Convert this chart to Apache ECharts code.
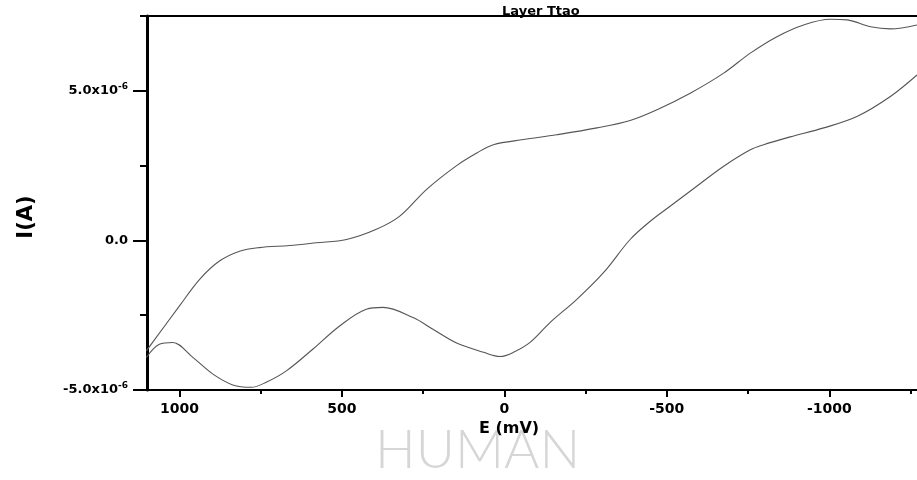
<!DOCTYPE html>
<html>
<head>
<meta charset="utf-8">
<script src="https://cdn.jsdelivr.net/npm/echarts@6/dist/echarts.min.js"></script>
<style>html,body{margin:0;padding:0;background:#fff;}#c{width:917px;height:480px;}</style>
</head>
<body>
<div id="c"></div>
<script>
// Potential sweep toward negative values (upper branch), mV
const forwardE = [1102, 1000, 938, 877, 815, 754, 661, 579, 486, 394, 322, 240, 147, 85, 34, -59, -161, -285, -387, -470, -572, -675, -757, -839, -921, -1003, -1055, -1127, -1188, -1270];
// Current for the upper branch, A
const forwardI = [-3.69e-6, -2.19e-6, -1.30e-6, -0.69e-6, -0.36e-6, -0.24e-6, -0.17e-6, -0.08e-6, 0.03e-6, 0.37e-6, 0.81e-6, 1.70e-6, 2.50e-6, 2.92e-6, 3.20e-6, 3.37e-6, 3.53e-6, 3.76e-6, 4.01e-6, 4.37e-6, 4.92e-6, 5.59e-6, 6.26e-6, 6.81e-6, 7.20e-6, 7.39e-6, 7.37e-6, 7.14e-6, 7.07e-6, 7.20e-6];
// Return sweep (lower branch), mV
const reverseE = [-1270, -1188, -1085, -983, -880, -798, -757, -675, -592, -510, -449, -387, -305, -223, -141, -79, -28, 13, 64, 147, 220, 281, 374, 425, 507, 589, 671, 733, 779, 836, 897, 959, 1021, 1062, 1102];
// Current for the lower branch, A
const reverseI = [5.53e-6, 4.81e-6, 4.14e-6, 3.76e-6, 3.46e-6, 3.20e-6, 3.03e-6, 2.48e-6, 1.81e-6, 1.14e-6, 0.64e-6, 0.03e-6, -1.08e-6, -1.97e-6, -2.74e-6, -3.41e-6, -3.74e-6, -3.88e-6, -3.74e-6, -3.43e-6, -2.97e-6, -2.58e-6, -2.24e-6, -2.30e-6, -2.86e-6, -3.63e-6, -4.36e-6, -4.74e-6, -4.91e-6, -4.83e-6, -4.47e-6, -3.91e-6, -3.41e-6, -3.47e-6, -3.91e-6];

const xMajorTicks = [1000, 500, 0, -500, -1000];
const xMinorTicks = [750, 250, -250, -750, -1250];
const yMajorTicks = [-5e-6, 0, 5e-6];
const yMinorTicks = [-2.5e-6, 2.5e-6, 7.5e-6];

const titleText = 'Layer Ttao';
const xName = 'E (mV)';
const yName = 'I(A)';
const watermark = 'HUMAN';

const X_MIN = -1270, X_MAX = 1100;
const Y_MIN = -5e-6, Y_MAX = 7.5e-6;

const FONT = 'DejaVu Sans';

const chart = echarts.init(document.getElementById('c'), null, {renderer: 'canvas'});

function yFmt(v) {
  const n = Math.round(v * 1e7) / 10;
  if (n === 0) return '{b|0.0}';
  return '{b|' + n.toFixed(1) + 'x10}{s|-6}';
}

const baseX = {
  type: 'value', min: X_MIN, max: X_MAX, inverse: true, gridIndex: 0,
  splitLine: {show: false}
};
const baseY = {
  type: 'value', min: Y_MIN, max: Y_MAX, gridIndex: 0,
  splitLine: {show: false}
};

chart.setOption({
  animation: false,
  backgroundColor: '#fff',
  title: {
    text: titleText, left: 497, top: 0,
    textStyle: {fontFamily: FONT, fontWeight: 'bold', fontSize: 13, color: '#000'}
  },
  grid: {left: 147, right: 0, top: 16, bottom: 90, containLabel: false},
  xAxis: [
    Object.assign({}, baseX, {
      position: 'bottom',
      axisLine: {show: true, onZero: false, lineStyle: {color: '#000', width: 2}},
      axisTick: {show: true, customValues: xMajorTicks, length: 7, lineStyle: {color: '#000', width: 2}},
      axisLabel: {show: true, customValues: xMajorTicks, margin: 12, formatter: v => String(v),
        fontFamily: FONT, fontWeight: 'bold', fontSize: 14, color: '#000'},
      name: xName, nameLocation: 'middle', nameGap: 25,
      nameTextStyle: {fontFamily: FONT, fontWeight: 'bold', fontSize: 16, color: '#000', padding: [0, 46, 0, 0]}
    }),
    Object.assign({}, baseX, {
      position: 'bottom',
      axisLine: {show: false, onZero: false},
      axisTick: {show: true, customValues: xMinorTicks, length: 4, lineStyle: {color: '#000', width: 2}},
      axisLabel: {show: false}
    }),
    Object.assign({}, baseX, {
      position: 'top',
      axisLine: {show: true, onZero: false, lineStyle: {color: '#000', width: 2}},
      axisTick: {show: false},
      axisLabel: {show: false}
    })
  ],
  yAxis: [
    Object.assign({}, baseY, {
      position: 'left',
      axisLine: {show: true, onZero: false, lineStyle: {color: '#000', width: 3}},
      axisTick: {show: true, customValues: yMajorTicks, length: 14, lineStyle: {color: '#000', width: 2}},
      axisLabel: {show: true, customValues: yMajorTicks, margin: 19, formatter: yFmt,
        fontFamily: FONT, fontWeight: 'bold', fontSize: 13, color: '#000',
        rich: {
          b: {fontFamily: FONT, fontWeight: 'bold', fontSize: 13, lineHeight: 18, color: '#000'},
          s: {fontFamily: FONT, fontWeight: 'bold', fontSize: 9, lineHeight: 10, verticalAlign: 'top', color: '#000'}
        }},
      name: yName, nameLocation: 'middle', nameGap: 110, nameRotate: 90,
      nameTextStyle: {fontFamily: FONT, fontWeight: 'bold', fontSize: 21, color: '#000', padding: [0, 28, 0, 0]}
    }),
    Object.assign({}, baseY, {
      position: 'left',
      axisLine: {show: false, onZero: false},
      axisTick: {show: true, customValues: yMinorTicks, length: 7, lineStyle: {color: '#000', width: 2}},
      axisLabel: {show: false}
    })
  ],
  graphic: [{
    type: 'text', left: 375, top: 424, z: -10, silent: true,
    style: {text: watermark, fontFamily: 'Lato', fontWeight: 300, fontSize: 54, fill: '#d6d6d6'}
  }],
  series: [
    {
      name: 'forward', type: 'line', xAxisIndex: 0, yAxisIndex: 0,
      data: forwardE.map((e, i) => [e, forwardI[i]]),
      showSymbol: false, smooth: 0.35, clip: true,
      lineStyle: {color: '#555', width: 1.1}
    },
    {
      name: 'reverse', type: 'line', xAxisIndex: 0, yAxisIndex: 0,
      data: reverseE.map((e, i) => [e, reverseI[i]]),
      showSymbol: false, smooth: 0.35, clip: true,
      lineStyle: {color: '#555', width: 1.1}
    }
  ]
});
</script>
</body>
</html>
